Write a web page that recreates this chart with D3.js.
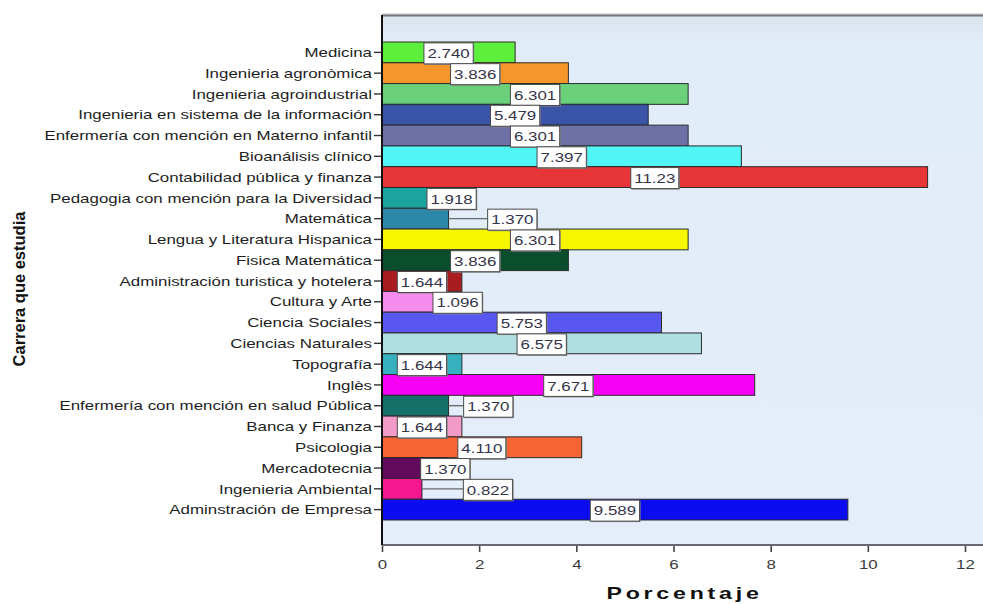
<!DOCTYPE html>
<html>
<head>
<meta charset="utf-8">
<script src="https://cdn.jsdelivr.net/npm/d3@7/dist/d3.min.js"></script>
<style>
  html, body { margin: 0; padding: 0; background: #ffffff; }
  svg { display: block; }
  text { font-family: "Liberation Sans", Arial, sans-serif; }
</style>
</head>
<body>
<svg id="chart" width="983" height="604"></svg>
<script>
// Carrera que estudia — porcentaje de estudiantes por carrera
const categories = [
  "Medicina",
  "Ingenieria agronòmica",
  "Ingenieria agroindustrial",
  "Ingenieria en sistema de la información",
  "Enfermería con mención en Materno infantil",
  "Bioanálisis clínico",
  "Contabilidad pública y finanza",
  "Pedagogia con mención para la Diversidad",
  "Matemática",
  "Lengua y Literatura Hispanica",
  "Fisica Matemática",
  "Administración turistica y hotelera",
  "Cultura y Arte",
  "Ciencia Sociales",
  "Ciencias Naturales",
  "Topografía",
  "Inglès",
  "Enfermería con mención en salud Pública",
  "Banca y Finanza",
  "Psicologia",
  "Mercadotecnia",
  "Ingenieria Ambiental",
  "Adminstración de Empresa"
];

const values = [
  2.740, 3.836, 6.301, 5.479, 6.301, 7.397, 11.23, 1.918, 1.370, 6.301,
  3.836, 1.644, 1.096, 5.753, 6.575, 1.644, 7.671, 1.370, 1.644, 4.110,
  1.370, 0.822, 9.589
];

const barColors = [
  "#5cef3c", "#f6962a", "#6ad07a", "#3a54a8", "#6e71a6", "#52f5f5",
  "#e83538", "#1ba39e", "#2c87a8", "#f6f600", "#0b4e2e", "#a91c20",
  "#f78cef", "#5858f0", "#afdfe0", "#37b1bf", "#f500f5", "#15706a",
  "#f29bc8", "#f66533", "#620a5c", "#f6168d", "#0c0cf0"
];

const xTicks = [0, 2, 4, 6, 8, 10, 12];

const xTitle = "Porcentaje";
const yTitle = "Carrera que estudia";

// ---- layout ----
const W = 983, H = 604;
const plot = { left: 382, top: 15, right: 983, bottom: 545 };
const bandTop = 42, bandBottom = 520;
const stretch = 1.3;               // horizontal widening of the text glyphs

// horizontal shifts (px) of value boxes that sit off their bar's centre
const labelNudge = {
  "Pedagogia con mención para la Diversidad": 23,
  "Matemática": 97,
  "Cultura y Arte": 49,
  "Enfermería con mención en salud Pública": 73,
  "Mercadotecnia": 30,
  "Ingenieria Ambiental": 86
};

const svg = d3.select("#chart");

const x = d3.scaleLinear()
  .domain([0, 12])
  .range([plot.left, 965]);

const y = d3.scaleBand()
  .domain(categories)
  .range([bandTop, bandBottom])
  .paddingInner(0)
  .paddingOuter(0);

// plot background
const defs = svg.append("defs");
const grad = defs.append("linearGradient")
  .attr("id", "bg").attr("x1", 0).attr("y1", 0).attr("x2", 0).attr("y2", 1);
grad.append("stop").attr("offset", "0%").attr("stop-color", "#dde4ec");
grad.append("stop").attr("offset", "5%").attr("stop-color", "#e0ecf8");
grad.append("stop").attr("offset", "100%").attr("stop-color", "#e4eefa");

svg.append("rect")
  .attr("x", plot.left).attr("y", plot.top)
  .attr("width", plot.right - plot.left)
  .attr("height", plot.bottom - plot.top)
  .attr("fill", "url(#bg)");

// top frame line
svg.append("line")
  .attr("x1", plot.left).attr("x2", plot.right)
  .attr("y1", plot.top - 1).attr("y2", plot.top - 1)
  .attr("stroke", "#b9bcc0").attr("stroke-width", 1);
svg.append("line")
  .attr("x1", plot.left).attr("x2", plot.right)
  .attr("y1", plot.top + 0.5).attr("y2", plot.top + 0.5)
  .attr("stroke", "#70757b").attr("stroke-width", 2);

// bars
const rows = categories.map((c, i) => ({ cat: c, v: values[i], color: barColors[i] }));

svg.append("g").selectAll("rect")
  .data(rows)
  .join("rect")
  .attr("x", x(0))
  .attr("y", d => y(d.cat))
  .attr("width", d => x(d.v) - x(0))
  .attr("height", y.bandwidth())
  .attr("fill", d => d.color)
  .attr("stroke", "#2b2b2b")
  .attr("stroke-width", 1);

// x axis
const xAxis = d3.axisBottom(x)
  .tickValues(xTicks)
  .tickFormat(d3.format("d"))
  .tickSize(7)
  .tickSizeOuter(0);

const gx = svg.append("g")
  .attr("transform", `translate(0,${plot.bottom})`)
  .call(xAxis);
gx.select(".domain").remove();
gx.append("line")
  .attr("x1", plot.left).attr("x2", plot.right)
  .attr("y1", 0).attr("y2", 0)
  .attr("stroke", "#676b71").attr("stroke-width", 2.2);
gx.selectAll(".tick line").attr("stroke", "#444").attr("stroke-width", 1.6);
gx.selectAll(".tick text").remove();
gx.selectAll(".tick").append("g")
  .attr("transform", `translate(0,24) scale(${stretch},1)`)
  .append("text")
  .attr("text-anchor", "middle")
  .attr("font-size", 13)
  .attr("fill", "#3a3a3a")
  .text(d => d3.format("d")(d));

// y axis
const yAxis = d3.axisLeft(y).tickSize(8).tickSizeOuter(0).tickPadding(3);
const gy = svg.append("g")
  .attr("transform", `translate(${plot.left},0)`)
  .call(yAxis);
gy.select(".domain").remove();
gy.append("line")
  .attr("x1", 0).attr("x2", 0)
  .attr("y1", plot.top).attr("y2", plot.bottom)
  .attr("stroke", "#111").attr("stroke-width", 2);
gy.selectAll(".tick line").attr("stroke", "#333").attr("stroke-width", 1.4);
gy.selectAll(".tick text").remove();
gy.selectAll(".tick").append("g")
  .attr("transform", `translate(-10,0) scale(${stretch},1)`)
  .append("text")
  .attr("text-anchor", "end")
  .attr("dy", "0.36em")
  .attr("font-size", 13)
  .attr("fill", "#1e1e1e")
  .text(d => d);

// value labels
const fmt = v => v >= 10 ? d3.format(".2f")(v) : d3.format(".3f")(v);
const lab = svg.append("g");

rows.forEach(d => {
  const cy = y(d.cat) + y.bandwidth() / 2 + 1;
  const cx = (x(0) + x(d.v)) / 2 + (labelNudge[d.cat] || 0);
  const g = lab.append("g");
  const t = g.append("g")
    .attr("transform", `translate(${cx},${cy}) scale(${stretch},1)`)
    .append("text")
    .attr("text-anchor", "middle")
    .attr("dy", "0.36em")
    .attr("font-size", 13)
    .attr("fill", "#34344a")
    .text(fmt(d.v));
  const tw = t.node().getComputedTextLength() * stretch;
  const bw = tw + 7, bh = 21;
  const bx = cx - bw / 2, by = cy - bh / 2;
  const barEnd = x(d.v);
  if (bx > barEnd + 1) {
    g.insert("line", ":first-child")
      .attr("x1", barEnd).attr("x2", bx)
      .attr("y1", cy - 1).attr("y2", cy - 1)
      .attr("stroke", "#6a6a6a").attr("stroke-width", 1.4);
  }
  g.insert("rect", "g")
    .attr("x", bx + 1).attr("y", by + 1)
    .attr("width", bw).attr("height", bh)
    .attr("fill", "#8a8a8a");
  g.insert("rect", "g")
    .attr("x", bx).attr("y", by)
    .attr("width", bw).attr("height", bh)
    .attr("fill", "#ffffff")
    .attr("stroke", "#4a4a4a").attr("stroke-width", 1);
});

// axis titles
svg.append("g")
  .attr("transform", `translate(${(plot.left + plot.right) / 2 + 2},599) scale(1.45,1)`)
  .append("text")
  .attr("text-anchor", "middle")
  .attr("font-size", 16)
  .attr("font-weight", "bold")
  .attr("letter-spacing", 2.6)
  .attr("fill", "#111")
  .text(xTitle);

svg.append("g")
  .attr("transform", `translate(25,289) rotate(-90) scale(1.1,1.05)`)
  .append("text")
  .attr("text-anchor", "middle")
  .attr("font-size", 15)
  .attr("font-weight", "bold")
  .attr("fill", "#111")
  .text(yTitle);
</script>
</body>
</html>
